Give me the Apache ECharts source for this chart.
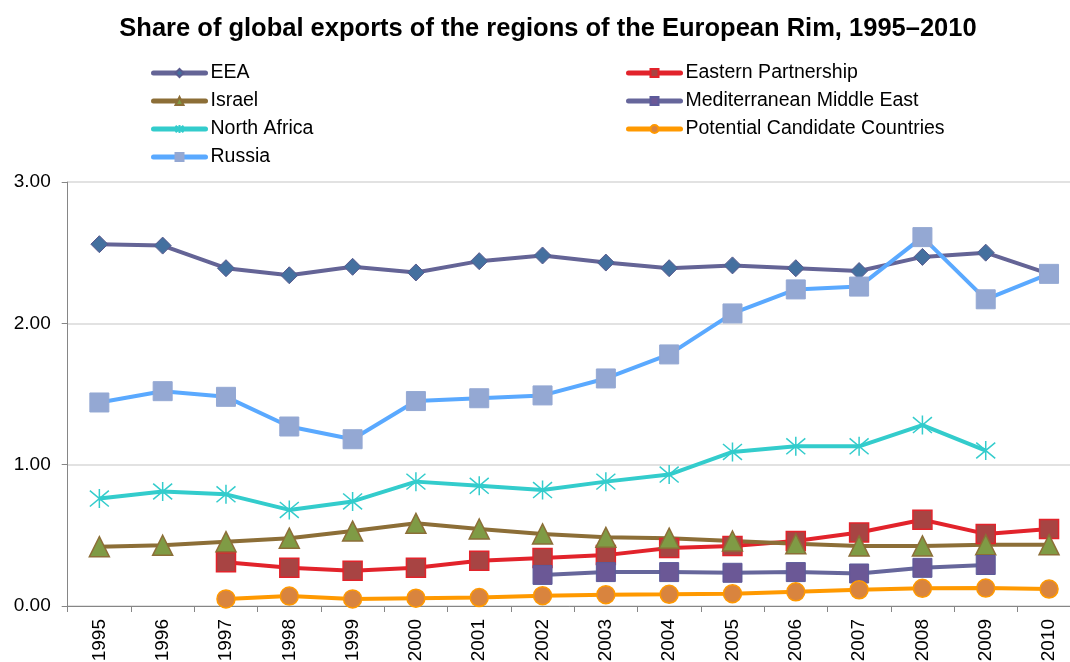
<!DOCTYPE html>
<html>
<head>
<meta charset="utf-8">
<script src="https://cdn.jsdelivr.net/npm/echarts@6/dist/echarts.min.js"></script>
<style>
  html, body { margin: 0; padding: 0; background: #fff; }
  #chart { width: 1070px; height: 662px; }
</style>
</head>
<body>
<div id="chart"></div>
<script>
// years on the category axis
var years = ['1995', '1996', '1997', '1998', '1999', '2000', '2001', '2002',
  '2003', '2004', '2005', '2006', '2007', '2008', '2009', '2010'];

// share of global exports, % (null = no data)
var eea = [2.56, 2.55, 2.39, 2.34, 2.40, 2.36, 2.44, 2.48, 2.43, 2.39, 2.41, 2.39, 2.37, 2.47, 2.50, 2.35];
var easternPartnership = [null, null, 0.31, 0.27, 0.25, 0.27, 0.32, 0.34, 0.36, 0.41, 0.425, 0.46, 0.52, 0.61, 0.51, 0.545];
var israel = [0.42, 0.43, 0.455, 0.48, 0.53, 0.585, 0.545, 0.51, 0.486, 0.48, 0.46, 0.44, 0.425, 0.425, 0.434, 0.434];
var medMiddleEast = [null, null, null, null, null, null, null, 0.22, 0.24, 0.24, 0.235, 0.24, 0.23, 0.27, 0.29, null];
var northAfrica = [0.76, 0.81, 0.79, 0.68, 0.74, 0.88, 0.85, 0.82, 0.88, 0.93, 1.09, 1.13, 1.13, 1.28, 1.10, null];
var candidates = [null, null, 0.05, 0.07, 0.05, 0.055, 0.06, 0.073, 0.08, 0.083, 0.087, 0.10, 0.115, 0.125, 0.127, 0.12];
var russia = [1.44, 1.52, 1.48, 1.27, 1.18, 1.45, 1.47, 1.49, 1.61, 1.78, 2.07, 2.24, 2.26, 2.61, 2.17, 2.35];

var yTicks = { min: 0, max: 3, interval: 1 };

var font = 'Liberation Sans, Arial, sans-serif';
var asterisk = 'path://M0,0 L10,10 M10,0 L0,10 M5,-1 L5,11';

function makeSeries(name, data, lineColor, symbol, size, fill, border, bw) {
  return {
    name: name,
    type: 'line',
    data: data,
    symbol: symbol,
    symbolSize: size,
    showAllSymbol: true,
    connectNulls: false,
    lineStyle: { color: lineColor, width: 4 },
    itemStyle: { color: fill, borderColor: border, borderWidth: bw },
    emphasis: { disabled: true },
    z: 2
  };
}

// two legend columns, same look
function legendCol(left, names) {
  return {
    orient: 'vertical',
    left: left,
    top: 58,
    itemWidth: 52,
    itemHeight: 10,
    itemGap: 8,
    lineStyle: { width: 5, cap: 'round' },
    textStyle: { fontFamily: font, fontSize: 19.5, color: '#000' },
    data: names
  };
}

var chart = echarts.init(document.getElementById('chart'));

var option = {
  backgroundColor: '#fff',
  animation: false,
  title: {
    text: 'Share of global exports of the regions of the European Rim, 1995\u20132010',
    left: 543,
    textAlign: 'center',
    top: 11,
    textStyle: { fontFamily: font, fontSize: 25.5, fontWeight: 'bold', color: '#000' }
  },
  legend: [
    legendCol(146, ['EEA', 'Israel', 'North Africa', 'Russia']),
    legendCol(621, ['Eastern Partnership', 'Mediterranean Middle East', 'Potential Candidate Countries'])
  ],
  grid: {
    left: 67.7,
    top: 182,
    width: 1013,
    height: 424,
    containLabel: false,
    outerBoundsMode: 'none'
  },
  xAxis: {
    type: 'category',
    data: years,
    boundaryGap: true,
    axisLine: { lineStyle: { color: '#868686', width: 1 } },
    axisTick: { show: true, length: 6, alignWithLabel: false, lineStyle: { color: '#868686' } },
    axisLabel: { rotate: 90, margin: 13, fontFamily: font, fontSize: 19, color: '#000', interval: 0 },
    splitLine: { show: false }
  },
  yAxis: {
    type: 'value',
    min: yTicks.min,
    max: yTicks.max,
    interval: yTicks.interval,
    axisLine: { show: true, lineStyle: { color: '#868686', width: 1 } },
    axisTick: { show: true, length: 6, lineStyle: { color: '#868686' } },
    axisLabel: {
      margin: 17, fontFamily: font, fontSize: 19, color: '#000',
      formatter: function (v) { return v.toFixed(2); }
    },
    splitLine: { show: true, lineStyle: { color: '#d9d9d9', width: 1.5 } }
  },
  series: [
    makeSeries('EEA', eea, '#646496', 'diamond', 17, '#44709f', '#5a5a8e', 1),
    makeSeries('Eastern Partnership', easternPartnership, '#e2232b', 'rect', 19, '#a84443', '#e2232b', 1.5),
    makeSeries('Israel', israel, '#8c6e37', 'triangle', 20, '#7f9b45', '#8c6e37', 1.5),
    makeSeries('Mediterranean Middle East', medMiddleEast, '#66669b', 'rect', 19, '#6b5896', '#5c5a9a', 1),
    makeSeries('North Africa', northAfrica, '#33cccc', asterisk, 19, 'none', '#33cccc', 1.5),
    makeSeries('Potential Candidate Countries', candidates, '#ff9900', 'circle', 18, '#d9843e', '#ff9900', 1.5),
    makeSeries('Russia', russia, '#5aa9ff', 'rect', 19, '#94a8d3', '#94a8d3', 1)
  ]
};

chart.setOption(option);
</script>
</body>
</html>
